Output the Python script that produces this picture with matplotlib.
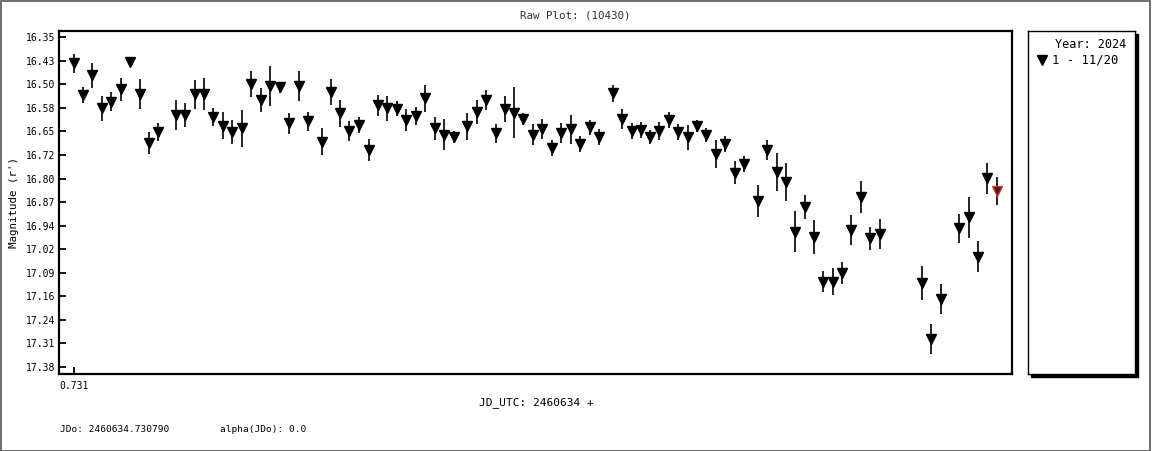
import numpy as np
import matplotlib.pyplot as plt
from matplotlib.patches import Rectangle

# JD fraction (JD_UTC - 2460634)
jd = [0.7310, 0.73235, 0.73375, 0.73516, 0.73655, 0.73801, 0.73936, 0.74086,
      0.74221, 0.74365, 0.74626, 0.74770, 0.74911, 0.75055, 0.75190, 0.75335,
      0.75475, 0.75625, 0.75760, 0.75901, 0.76040, 0.76183, 0.76325, 0.76471,
      0.76610, 0.76816, 0.76951, 0.77095, 0.77230, 0.77378, 0.77518, 0.77663,
      0.77798, 0.77945, 0.78083, 0.78226, 0.78365, 0.78515, 0.78655, 0.78793,
      0.78991, 0.79138, 0.79276, 0.79423, 0.79558, 0.79703, 0.79840, 0.79990,
      0.80125, 0.80270, 0.80405, 0.80552, 0.80693, 0.80836, 0.80972, 0.81185,
      0.81320, 0.81466, 0.81602, 0.81736, 0.81877, 0.82018, 0.82163, 0.82303,
      0.82445, 0.82580, 0.82726, 0.82865, 0.83011, 0.83150, 0.83356, 0.83495,
      0.83641, 0.83780, 0.83920, 0.84061, 0.84205, 0.84340, 0.84481, 0.84625,
      0.84760, 0.84905, 0.85045, 0.85190, 0.85816, 0.85955, 0.86101, 0.86380,
      0.86521, 0.86665, 0.86800, 0.86950]

mag = [16.431, 16.530, 16.468, 16.572, 16.551, 16.513, 16.426, 16.527,
       16.681, 16.645, 16.593, 16.593, 16.528, 16.528, 16.598, 16.626,
       16.645, 16.635, 16.497, 16.546, 16.502, 16.506, 16.619, 16.502,
       16.612, 16.676, 16.522, 16.588, 16.643, 16.624, 16.702, 16.562,
       16.572, 16.573, 16.608, 16.596, 16.541, 16.635, 16.654, 16.662,
       16.628, 16.583, 16.545, 16.650, 16.573, 16.586, 16.606, 16.654,
       16.636, 16.695, 16.649, 16.638, 16.683, 16.631, 16.661, 16.525,
       16.605, 16.643, 16.639, 16.662, 16.643, 16.609, 16.646, 16.662,
       16.627, 16.656, 16.716, 16.685, 16.773, 16.747, 16.861, 16.702,
       16.770, 16.802, 16.958, 16.880, 16.974, 17.114, 17.114, 17.088,
       16.953, 16.848, 16.979, 16.966, 17.119, 17.294, 17.169, 16.947,
       16.913, 17.036, 16.791, 16.830]

err = [0.030, 0.026, 0.039, 0.039, 0.030, 0.037, 0.013, 0.047,
       0.035, 0.028, 0.047, 0.038, 0.045, 0.050, 0.028, 0.042,
       0.037, 0.059, 0.041, 0.038, 0.063, 0.018, 0.033, 0.047,
       0.030, 0.041, 0.041, 0.042, 0.030, 0.026, 0.034, 0.033,
       0.038, 0.023, 0.035, 0.028, 0.041, 0.035, 0.048, 0.019,
       0.043, 0.037, 0.031, 0.030, 0.041, 0.080, 0.019, 0.034,
       0.032, 0.025, 0.031, 0.045, 0.025, 0.023, 0.025, 0.026,
       0.031, 0.025, 0.025, 0.023, 0.027, 0.025, 0.026, 0.039,
       0.020, 0.021, 0.044, 0.025, 0.035, 0.025, 0.050, 0.031,
       0.059, 0.059, 0.064, 0.038, 0.053, 0.033, 0.042, 0.035,
       0.047, 0.050, 0.037, 0.047, 0.053, 0.046, 0.047, 0.045,
       0.064, 0.048, 0.048, 0.044]

ytick_labels = ['16.35', '16.43', '16.50', '16.58', '16.65', '16.72', '16.80',
                '16.87', '16.94', '17.02', '17.09', '17.16', '17.24', '17.31',
                '17.38']

mono = 'DejaVu Sans Mono'
plt.rcParams['font.family'] = mono

fig = plt.figure(figsize=(11.52, 4.51), dpi=100)
ax = fig.add_axes([59/1152, 1 - 374/451, (1012 - 59)/1152, (374 - 31)/451])

# all points except the last one (latest, drawn in red)
ax.errorbar(jd[:-1], mag[:-1], yerr=err[:-1], fmt='v', color='black',
            ms=6.5, elinewidth=1.2, capsize=0)
ax.errorbar(jd[-1:], mag[-1:], yerr=err[-1:], fmt='v', color='black',
            mfc='#5a1010', mec='#c04040', ms=6.5, elinewidth=1.2, capsize=0)

ax.set_xlim(0.72875, 0.8717)
ax.set_ylim(17.403, 16.330)
ax.set_yticks(np.linspace(16.35, 17.38, len(ytick_labels)))
ax.set_yticklabels(ytick_labels)
ax.set_xticks([0.731])
ax.set_xticklabels(['0.731'])
ax.tick_params(axis='both', direction='in', length=5, width=1.3,
               labelsize=7, colors='black')
ax.tick_params(axis='y', pad=3)
ax.tick_params(axis='x', pad=5)
for s in ax.spines.values():
    s.set_linewidth(1.6)

fig.text(575/1152, 1 - 16/451, 'Raw Plot: (10430)', ha='center', va='center',
         fontsize=7.8, color='#333333')
fig.text(14/1152, 1 - 202/451, "Magnitude (r')", rotation=90, ha='center',
         va='center', fontsize=7.8)
fig.text(536/1152, 1 - 403/451, 'JD_UTC: 2460634 +', ha='center', va='center',
         fontsize=8)
fig.text(60/1152, 1 - 429/451, 'JDo: 2460634.730790', ha='left', va='center',
         fontsize=6.8)
fig.text(220/1152, 1 - 429/451, 'alpha(JDo): 0.0', ha='left', va='center',
         fontsize=6.8)

# legend box with shadow
lx0, ly0, lx1, ly1 = 1028, 31, 1135, 374
shadow = Rectangle(((lx0 + 3)/1152, 1 - (ly1 + 3)/451),
                   (lx1 - lx0)/1152, (ly1 - ly0)/451,
                   transform=fig.transFigure, facecolor='black',
                   edgecolor='black', zorder=-1)
fig.add_artist(shadow)
lax = fig.add_axes([lx0/1152, 1 - ly1/451, (lx1 - lx0)/1152, (ly1 - ly0)/451])
lax.set_zorder(2)
lax.set_facecolor('white')
lax.set_xlim(0, lx1 - lx0)
lax.set_ylim(ly1 - ly0, 0)
lax.set_xticks([])
lax.set_yticks([])
for s in lax.spines.values():
    s.set_linewidth(1.0)
lax.text(98, 13, 'Year: 2024', ha='right', va='center', fontsize=8.6)
lax.plot([14], [29], marker='v', color='black', ms=7)
lax.text(24, 29, '1 - 11/20', ha='left', va='center', fontsize=8.8)

# outer frame of the image
fig.add_artist(Rectangle((0.0005, 0.001), 0.998, 0.997,
                         transform=fig.transFigure, fill=False,
                         edgecolor='#555555', linewidth=1.2))

fig.savefig('out.png', dpi=100)
